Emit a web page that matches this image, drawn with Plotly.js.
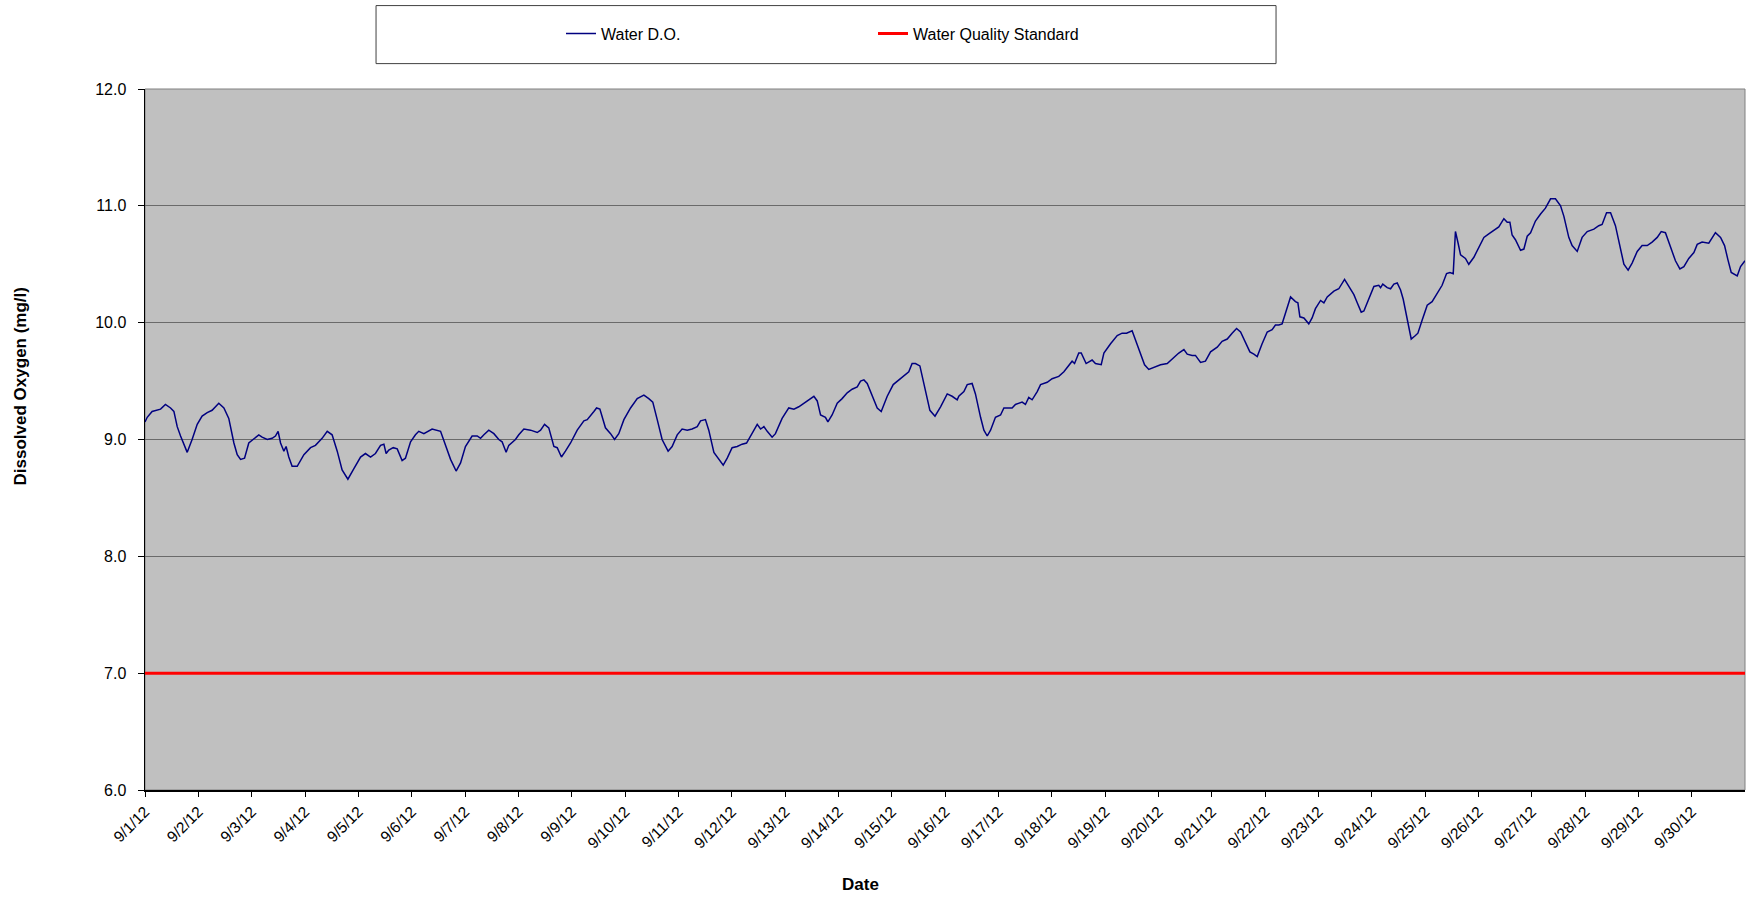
<!DOCTYPE html>
<html>
<head>
<meta charset="utf-8">
<script src="https://cdn.plot.ly/plotly-3.0.1.min.js"></script>
<style>
html,body{margin:0;padding:0;background:#ffffff;}
#chart{width:1750px;height:901px;}
</style>
</head>
<body>
<div id="chart"></div>
<script>
// Hours elapsed since 9/1/12 00:00
const hoursSinceStart = [
0,1,3.2,5.5,7,9.2,11.5,13,14.5,16,19,21.2,23.5,25.7,28,30.2,33.2,35.5,37.7,40,41.5,43,44.8,46.7,
49,51.2,52.7,55,57.2,58.7,59.9,61,62.5,63.5,64.7,66.2,68.5,71.5,74.5,76.7,79.7,82,84.2,86.5,88.7,91.3,94,
97,99.2,101.5,103.7,106,107.5,108.5,109.7,111.7,113.5,115.7,117.2,119.5,121.7,123.2,125.5,129.2,133,135.2,137.5,140,142,
144.2,147.2,149.5,151,152.5,154.7,157,159.2,160.7,162.5,163.7,166.7,168.2,170.5,173.5,176.5,178,179.8,181.7,184,185.5,187.4,
189.2,191.5,194.5,197.5,199,200.5,202,203.2,204.7,207.2,209.5,211.3,213.2,215.5,218.5,221.5,224.5,226.7,228.5,230.5,232.7,235.4,237.2,239.5,
241.7,244,246.2,248.5,250,252.2,253.7,256,258.2,260.2,262,264.2,266.5,268.7,270.7,272.5,274,275.5,277,278.5,280,282.2,283.7,286.7,
289.7,292,294.2,296.5,298.7,301,302.5,304,306.2,307.3,309.2,311.5,313.7,316,318.2,320.5,322,323.5,325,327.2,329.5,331.3,334,336.7,
339.2,341.5,343.7,345.2,346.7,348.7,350.5,353.2,355.5,358,361,363.2,365.5,366.2,368.5,370,372.2,373.7,376,377.5,379,380.5,382.7,385,
386.5,390.2,391.7,394.7,396.2,397.7,399.2,401.5,403,406,408.2,411.2,413.5,415.7,417.2,418.3,420.2,421.3,423.5,426.2,427.7,430.3,431.5,434.5,
437.5,439.7,441.7,444.2,445.7,448,449.8,451.7,454,457,460,462.2,465.2,467.5,469,471.2,472.7,475,477.2,479.5,482.5,484.7,487,489.2,
491.2,493,495.2,497.2,499,500.5,502.7,505,507.2,508.7,510.2,511.7,513.2,515.5,517.7,518.8,519.7,521.5,523.7,525.2,526.7,529,530.5,532,
535,537.2,539.8,541.7,544,545.5,547.3,548.5,550.7,553,555.2,556,557,559,560.5,562,563.5,565,566.2,567.7,569.8,571.7,572.8,574.7,
577,579.2,581.5,583.7,585.7,587.2,588.7,589.7,590.9,592,594.2,595.7,598,600.2,602.5,604.7,607,609.2,611.5,613,614.2,615.2,616.7,619,
620.5,622,623.5,625.7,628,630.2,632.5,634.7,637,638.5,640.7,642.2,644.5,646.7,649,652,654.2,655.7,657.7,659.5,661.7,663.7,665.5,667.4,
669.2,671.5,673.7,676,678.2,680.5,682.3,684.2,686.5,688.7,690.7,692.5,694.7,697,698.5,700.7,703.7,705.2,706.7,709,710.8,712.3,713.8,716.5,
718,720
];

// Water D.O. (mg/l)
const waterDO = [
9.15,9.19,9.24,9.25,9.26,9.30,9.27,9.24,9.11,9.03,8.89,9.00,9.13,9.20,9.23,9.25,9.31,9.27,9.18,8.97,8.87,8.83,8.84,8.97,
9.01,9.04,9.02,9.00,9.01,9.03,9.07,8.97,8.90,8.94,8.85,8.77,8.77,8.87,8.93,8.95,9.01,9.07,9.04,8.90,8.74,8.66,8.75,
8.85,8.88,8.85,8.88,8.95,8.96,8.88,8.91,8.93,8.92,8.82,8.84,8.98,9.04,9.07,9.05,9.09,9.07,8.95,8.83,8.73,8.80,
8.94,9.03,9.03,9.01,9.04,9.08,9.05,9.00,8.98,8.89,8.95,9.00,9.04,9.09,9.08,9.06,9.08,9.13,9.10,8.94,8.93,8.85,
8.90,8.97,9.08,9.16,9.17,9.21,9.24,9.27,9.26,9.10,9.05,9.00,9.05,9.17,9.27,9.35,9.38,9.35,9.32,9.17,9.00,8.90,8.94,9.04,
9.09,9.08,9.09,9.11,9.16,9.17,9.08,8.89,8.83,8.78,8.84,8.93,8.94,8.96,8.97,9.03,9.09,9.13,9.09,9.11,9.07,9.02,9.05,9.18,
9.27,9.26,9.28,9.31,9.34,9.37,9.33,9.21,9.19,9.15,9.21,9.31,9.35,9.40,9.43,9.45,9.50,9.51,9.48,9.38,9.27,9.24,9.37,9.47,
9.51,9.55,9.58,9.65,9.65,9.63,9.48,9.25,9.20,9.28,9.39,9.37,9.34,9.37,9.41,9.47,9.48,9.39,9.19,9.08,9.03,9.08,9.19,9.21,
9.27,9.27,9.30,9.32,9.30,9.36,9.34,9.41,9.47,9.49,9.52,9.54,9.58,9.64,9.67,9.65,9.74,9.74,9.65,9.68,9.65,9.64,9.74,9.82,
9.89,9.91,9.91,9.93,9.85,9.74,9.64,9.60,9.62,9.64,9.65,9.69,9.74,9.77,9.73,9.72,9.72,9.66,9.67,9.75,9.79,9.84,9.86,9.91,
9.95,9.92,9.83,9.75,9.73,9.71,9.82,9.92,9.94,9.98,9.98,9.99,10.08,10.22,10.18,10.17,10.05,10.04,9.99,10.04,10.12,10.19,10.17,10.22,
10.27,10.29,10.37,10.31,10.24,10.17,10.09,10.10,10.20,10.31,10.32,10.30,10.33,10.30,10.29,10.33,10.34,10.28,10.20,10.05,9.86,9.89,9.91,10.02,
10.15,10.18,10.25,10.32,10.42,10.43,10.42,10.78,10.68,10.58,10.55,10.50,10.56,10.64,10.73,10.76,10.79,10.82,10.89,10.86,10.86,10.75,10.71,10.62,
10.63,10.74,10.77,10.87,10.93,10.98,11.06,11.06,11.00,10.91,10.73,10.66,10.61,10.73,10.78,10.80,10.83,10.84,10.94,10.94,10.83,10.66,10.50,10.45,
10.51,10.61,10.66,10.66,10.69,10.73,10.78,10.77,10.64,10.53,10.46,10.48,10.55,10.60,10.67,10.69,10.68,10.73,10.77,10.73,10.66,10.54,10.43,10.40,
10.48,10.53
];

// Water quality standard (mg/l)
const standardValue = 7.0;
const standardHours = [0, 720];

// Axis tick labels (one per day)
const dayLabels = ['9/1/12','9/2/12','9/3/12','9/4/12','9/5/12','9/6/12','9/7/12','9/8/12','9/9/12','9/10/12',
  '9/11/12','9/12/12','9/13/12','9/14/12','9/15/12','9/16/12','9/17/12','9/18/12','9/19/12','9/20/12',
  '9/21/12','9/22/12','9/23/12','9/24/12','9/25/12','9/26/12','9/27/12','9/28/12','9/29/12','9/30/12'];
const yTicks = [6, 7, 8, 9, 10, 11, 12];

const seriesNames = ['Water D.O.', 'Water Quality Standard'];
const xTitle = 'Date';
const yTitle = 'Dissolved Oxygen (mg/l)';

const start = Date.UTC(2012, 8, 1);
function toDate(h) {
  return new Date(start + h * 3600000).toISOString().replace('T', ' ').slice(0, 19);
}
const xDO = hoursSinceStart.map(toDate);
const xStd = standardHours.map(toDate);
const tickDates = dayLabels.map((_, i) => toDate(i * 24));

const font = 'Arial, "Liberation Sans", sans-serif';

const traces = [
  {
    x: xDO, y: waterDO, type: 'scatter', mode: 'lines', name: seriesNames[0],
    line: {color: '#000080', width: 1.5}
  },
  {
    x: xStd, y: standardHours.map(() => standardValue), type: 'scatter', mode: 'lines', name: seriesNames[1],
    line: {color: '#FF0000', width: 3}
  }
];

const layout = {
  width: 1750, height: 901,
  margin: {l: 145, r: 5, t: 89, b: 111},
  paper_bgcolor: '#ffffff',
  plot_bgcolor: '#C0C0C0',
  font: {family: font, size: 16, color: '#000000'},
  showlegend: true,
  legend: {
    orientation: 'h', x: 0.26, xanchor: 'left', y: 1.079, yanchor: 'middle',
    bgcolor: 'rgba(0,0,0,0)', borderwidth: 0,
    font: {family: font, size: 16, color: '#000000'},
    entrywidth: 267, entrywidthmode: 'pixels'
  },
  xaxis: {
    type: 'date',
    range: [toDate(0), toDate(720)],
    tickmode: 'array', tickvals: tickDates, ticktext: dayLabels,
    tickangle: -45,
    tickfont: {family: font, size: 15.5, color: '#000000'},
    ticks: 'outside', ticklen: 5, tickcolor: '#000000', tickwidth: 1,
    showgrid: false, zeroline: false,
    showline: true, linecolor: '#000000', linewidth: 1.5,
    fixedrange: true
  },
  yaxis: {
    range: [6, 12],
    tickmode: 'array', tickvals: yTicks, ticktext: yTicks.map(v => v.toFixed(1)),
    tickfont: {family: font, size: 16, color: '#000000'},
    ticks: 'outside', ticklen: 6, tickcolor: '#000000', tickwidth: 1,
    ticklabelstandoff: 8,
    showgrid: true, gridcolor: '#6a6a6a', gridwidth: 1,
    zeroline: false,
    showline: true, linecolor: '#000000', linewidth: 1.5,
    fixedrange: true
  },
  shapes: [
    {type: 'rect', xref: 'paper', yref: 'paper', x0: 0.1444, x1: 0.7069, y0: 1.0362, y1: 1.119,
     fillcolor: '#ffffff', line: {color: '#404040', width: 1}, layer: 'below'},
    {type: 'rect', xref: 'paper', yref: 'paper', x0: 0, x1: 1, y0: 0, y1: 1,
     fillcolor: 'rgba(0,0,0,0)', line: {color: '#808080', width: 1}, layer: 'below'}
  ],
  annotations: [
    {text: '<b>' + xTitle + '</b>', xref: 'paper', yref: 'paper', x: 0.447, y: -0.135, xanchor: 'center', yanchor: 'middle',
     showarrow: false, font: {family: font, size: 17, color: '#000000'}},
    {text: '<b>' + yTitle + '</b>', xref: 'paper', yref: 'paper', x: -0.078, y: 0.576, xanchor: 'center', yanchor: 'middle',
     textangle: -90, showarrow: false, font: {family: font, size: 17, color: '#000000'}}
  ]
};

Plotly.newPlot('chart', traces, layout, {displayModeBar: false, staticPlot: true});
</script>
</body>
</html>
